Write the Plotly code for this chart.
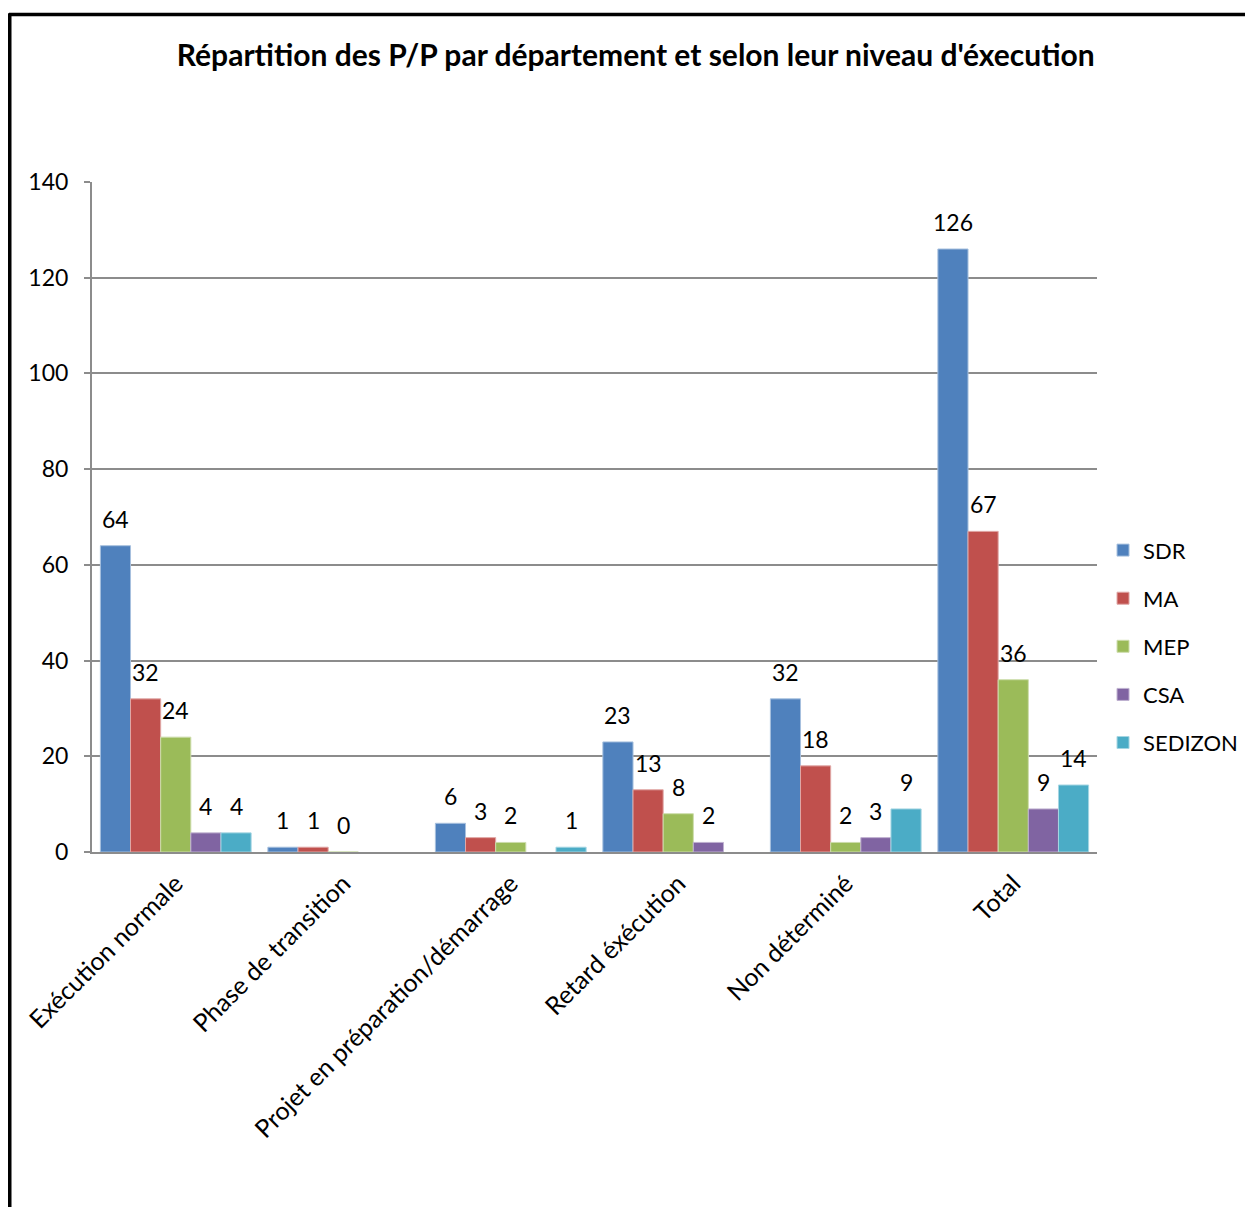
import plotly.graph_objects as go

categories = ["Exécution normale", "Phase de transition", "Projet en préparation/démarrage",
              "Retard éxécution", "Non déterminé", "Total"]
series_names = ["SDR", "MA", "MEP", "CSA", "SEDIZON"]
sdr = [64, 1, 6, 23, 32, 126]
ma = [32, 1, 3, 13, 18, 67]
mep = [24, 0, 2, 8, 2, 36]
csa = [4, None, None, 2, 3, 9]
sedizon = [4, None, 1, None, 9, 14]
y_ticks = [0, 20, 40, 60, 80, 100, 120, 140]

colors = ["#4F81BD", "#C0504D", "#9BBB59", "#8064A2", "#4BACC6"]
edges = ["#A7C0DE", "#E0A8A6", "#CDDDAC", "#BFB1D0", "#A5D5E2"]
FONT = "Lato"

W, H = 1253, 1207
ML, MT, PW, PH = 84, 174, 1005, 670
MR, MB = W - ML - PW, H - MT - PH
BARGAP = 0.1

all_series = [sdr, ma, mep, csa, sedizon]
fig = go.Figure()
for name, vals, col, edge in zip(series_names, all_series, colors, edges):
    fig.add_trace(go.Bar(
        name=name, x=categories, y=vals,
        marker=dict(color=col, line=dict(color=edge, width=1)),
        legendgroup=name,
    ))

# data labels placed above bar tops
n = len(series_names)
bar_px = PW / len(categories) * (1 - BARGAP) / n
for i, vals in enumerate(all_series):
    for cat, v in zip(categories, vals):
        if v is None:
            continue
        fig.add_annotation(x=cat, y=v, xref="x", yref="y", text=str(v), showarrow=False,
                           xshift=(i - (n - 1) / 2) * bar_px, yshift=27, yanchor="middle",
                           font=dict(family=FONT, size=23, color="#000000"))

fig.update_layout(
    width=W, height=H,
    margin=dict(l=ML, r=MR, t=MT, b=MB),
    paper_bgcolor="white", plot_bgcolor="white",
    barmode="group", bargap=BARGAP, bargroupgap=0,
    font=dict(family=FONT, size=22, color="#000000"),
    title=dict(text="<b>Répartition des P/P par département et selon leur niveau d'éxecution</b>",
               x=0.501, xanchor="center", y=0.961, yanchor="middle",
               font=dict(family=FONT, size=30, color="#000000")),
    legend=dict(x=1.006, xanchor="left", y=0.307, yanchor="middle",
                font=dict(family=FONT, size=22), tracegroupgap=16.5,
                bgcolor="rgba(0,0,0,0)"),
    showlegend=True,
)
fig.update_xaxes(showline=True, linecolor="#8C8C8C", linewidth=2, ticks="",
                 tickangle=-45, tickfont=dict(family=FONT, size=25), showgrid=False,
                 ticklabelstandoff=5)
fig.update_yaxes(range=[0, 140], tickvals=y_ticks, showline=True, linecolor="#8C8C8C",
                 linewidth=2, ticks="outside", ticklen=6, tickcolor="#8C8C8C", tickwidth=2,
                 showgrid=True, gridcolor="#8C8C8C", gridwidth=2, zeroline=False,
                 tickfont=dict(family=FONT, size=23), ticklabelstandoff=11)

# outer chart frame (top and left edges visible)
fx = (9 - 92) / PW
fy = (852 - 14.5) / PH
fig.add_shape(type="line", xref="paper", yref="paper", x0=fx, x1=fx, y0=-0.6, y1=fy + 0.002,
              line=dict(color="black", width=5))
fig.add_shape(type="line", xref="paper", yref="paper", x0=fx, x1=1.2, y0=fy, y1=fy,
              line=dict(color="black", width=3.5))

fig.write_html("out.html")
